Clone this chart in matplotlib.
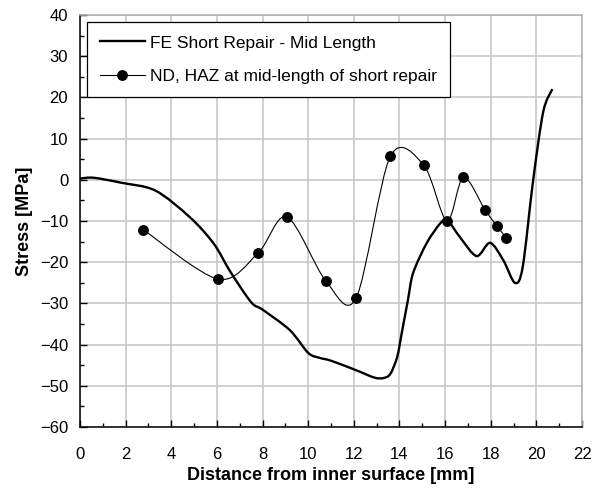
import numpy as np
import matplotlib
matplotlib.use("Agg")
import matplotlib.pyplot as plt
from matplotlib.path import Path
from matplotlib.patches import PathPatch
from matplotlib.lines import Line2D
from matplotlib.ticker import MultipleLocator

plt.rcParams["font.family"] = ["Liberation Sans", "DejaVu Sans"]

# FE Short Repair - Mid Length
fe_x = [0.0, 0.6, 1.8, 3.3, 4.8, 5.85, 6.6, 7.5, 8.0, 9.2, 10.0, 10.5, 11.0,
        12.1, 12.9, 13.3, 13.6, 13.9, 14.1, 14.37, 14.6, 15.2, 15.8, 16.1,
        16.65, 17.38, 17.97, 18.55, 19.06, 19.4, 19.85, 20.3, 20.7]
fe_y = [0.3, 0.5, -0.7, -2.6, -9.0, -15.4, -22.4, -29.7, -31.5, -36.5, -42.0,
        -43.2, -43.9, -46.2, -48.0, -48.1, -47.1, -43.0, -37.2, -29.2, -22.6,
        -15.3, -10.5, -9.8, -13.9, -18.5, -15.3, -19.5, -25.0, -21.2, -0.5,
        16.5, 22.0]

# ND, HAZ at mid-length of short repair
nd_x = [2.77, 6.05, 7.8, 9.07, 10.78, 12.1, 13.6, 15.07, 16.08, 16.8, 17.75,
        18.27, 18.67]
nd_y = [-12.1, -24.1, -17.8, -9.0, -24.6, -28.7, 5.7, 3.5, -10.0, 0.6, -7.3,
        -11.2, -14.0]

fe_label = "FE Short Repair - Mid Length"
nd_label = "ND, HAZ at mid-length of short repair"


def smooth_path(xs, ys, k=1 / 6.5):
    # spreadsheet-style smoothed line: cubic Bezier segments (Catmull-Rom)
    p = np.column_stack([xs, ys]).astype(float)
    n = len(p)
    verts = [p[0]]
    codes = [Path.MOVETO]
    for i in range(n - 1):
        p0 = p[i - 1] if i > 0 else p[i]
        p3 = p[i + 2] if i + 2 < n else p[i + 1]
        c1 = p[i] + (p[i + 1] - p0) * k
        c2 = p[i + 1] - (p3 - p[i]) * k
        verts += [c1, c2, p[i + 1]]
        codes += [Path.CURVE4] * 3
    return Path(verts, codes)


fig = plt.figure(figsize=(6.05, 4.96), dpi=100)
ax = fig.add_axes([0.1322, 0.139, 0.8298, 0.8308])

ax.add_patch(PathPatch(smooth_path(fe_x, fe_y), facecolor="none",
                       edgecolor="black", linewidth=1.7, zorder=3))
ax.add_patch(PathPatch(smooth_path(nd_x, nd_y), facecolor="none",
                       edgecolor="black", linewidth=0.8, zorder=3))
ax.plot(nd_x, nd_y, linestyle="none", marker="o", markersize=6.8,
        color="black", zorder=4)

ax.set_xlim(0, 22)
ax.set_ylim(-60, 40)
ax.xaxis.set_major_locator(MultipleLocator(2))
ax.xaxis.set_minor_locator(MultipleLocator(1))
ax.yaxis.set_major_locator(MultipleLocator(10))
ax.yaxis.set_minor_locator(MultipleLocator(5))
ax.grid(True, which="major", color="#c4c4c4", linewidth=1.1, zorder=0)
ax.set_axisbelow(True)
ax.tick_params(which="both", direction="in", top=False, right=False,
               labelsize=12, width=1)
ax.tick_params(which="major", length=5)
ax.tick_params(which="minor", length=3)
ax.tick_params(axis="x", which="both", pad=14)
ax.tick_params(axis="y", which="both", pad=8.5)

for side in ["left", "bottom"]:
    ax.spines[side].set_color("black")
    ax.spines[side].set_linewidth(1.1)
for side in ["top", "right"]:
    ax.spines[side].set_color("#b0b0b0")
    ax.spines[side].set_linewidth(1.1)

ax.set_xlabel("Distance from inner surface [mm]", fontsize=13,
              fontweight="bold", labelpad=4)
ax.set_ylabel("Stress [MPa]", fontsize=13, fontweight="bold", labelpad=5)

handles = [
    Line2D([], [], color="black", linewidth=1.7),
    Line2D([], [], color="black", linewidth=0.8, marker="o", markersize=6.8),
]
leg = ax.legend(handles, [fe_label, nd_label], loc="upper left",
                bbox_to_anchor=(0.013, 0.982), borderaxespad=0,
                fontsize=12.5, fancybox=False, framealpha=1,
                edgecolor="black", handlelength=2.6, handletextpad=0.3,
                labelspacing=1.05, borderpad=0.75)
leg.get_frame().set_linewidth(0.9)

fig.savefig("out.png", dpi=100)
